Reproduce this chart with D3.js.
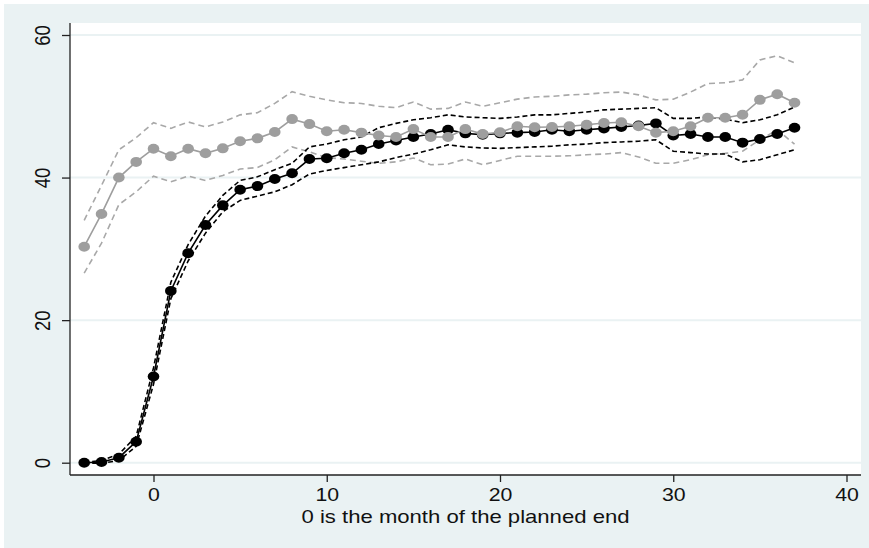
<!DOCTYPE html>
<html><head><meta charset="utf-8">
<script src="https://cdn.jsdelivr.net/npm/d3@7"></script>
<style>html,body{margin:0;padding:0;background:#fff;}svg{display:block;}</style>
</head><body>
<svg id="c" width="869" height="548"></svg>
<script>
const months = d3.range(-4, 38);
const grayMean = [30.3,34.9,40.0,42.2,44.05,43.0,44.05,43.4,44.1,45.1,45.5,46.4,48.2,47.5,46.5,46.7,46.3,45.9,45.7,46.8,45.7,45.7,46.8,46.1,46.35,47.2,47.05,47.1,47.2,47.4,47.65,47.75,47.2,46.3,46.5,47.2,48.4,48.4,48.8,50.9,51.7,50.5];
const grayUpper = [34.0,38.9,43.9,45.6,47.7,46.9,47.8,47.1,47.8,48.8,49.1,50.4,52.05,51.4,50.9,50.5,50.4,50.0,49.8,50.6,49.6,49.7,50.6,50.0,50.5,51.0,51.3,51.4,51.6,51.7,51.9,52.0,51.6,50.9,51.0,52.0,53.2,53.3,53.7,56.5,57.1,56.1];
const grayLower = [26.6,30.8,36.2,38.0,40.2,39.4,40.2,39.6,40.3,41.2,41.4,42.5,44.3,43.6,42.8,42.6,42.3,42.0,42.2,42.75,41.8,41.9,42.6,41.8,42.4,43.0,43.0,43.0,43.05,43.2,43.3,43.5,42.9,42.0,42.0,42.5,43.2,43.4,43.7,45.3,46.7,44.7];
const blackMean = [0.0,0.1,0.7,2.95,12.1,24.1,29.4,33.35,36.1,38.3,38.8,39.8,40.6,42.6,42.7,43.4,43.9,44.7,45.2,45.7,46.1,46.7,46.2,46.0,46.2,46.3,46.4,46.7,46.5,46.7,46.9,47.1,47.3,47.6,45.9,46.1,45.7,45.7,44.9,45.4,46.1,47.0];
const blackUpper = [0.05,0.3,1.2,3.7,13.3,25.3,30.6,34.6,37.5,39.6,40.1,41.1,42.0,44.3,44.7,45.3,45.7,47.0,47.6,48.1,48.4,48.8,48.5,48.4,48.3,48.5,48.8,48.8,49.0,49.2,49.5,49.6,49.7,49.8,48.3,48.3,48.5,48.2,47.7,48.1,48.8,49.9];
const blackLower = [-0.05,-0.1,0.3,2.3,11.0,23.0,28.3,32.2,35.2,36.8,37.4,38.0,39.0,40.5,41.0,41.4,41.8,42.2,42.8,43.3,43.9,44.6,44.3,44.15,44.1,44.2,44.3,44.4,44.6,44.7,44.9,45.0,45.1,45.3,43.7,43.5,43.3,43.3,42.2,42.5,43.2,43.9];
const xTicks = [0,10,20,30,40];
const yTicks = [0,20,40,60];
const xTitle = "0 is the month of the planned end";

const svg = d3.select("#c");
const P = {l:70, r:861, t:23, b:475};
const x = d3.scaleLinear().domain([0,40]).range([153.5,846.5]);
const y = d3.scaleLinear().domain([0,60]).range([462.7,35]);
const FONT = "Liberation Sans, Arial, sans-serif";

svg.append("rect").attr("x",4).attr("y",4).attr("width",865).attr("height",544).attr("fill","#EAF2F3");
svg.append("rect").attr("x",P.l).attr("y",P.t).attr("width",P.r-P.l).attr("height",P.b-P.t).attr("fill","#fff");

// gridlines
svg.append("g").selectAll("line").data(yTicks).join("line")
  .attr("x1",P.l).attr("x2",P.r).attr("y1",d=>y(d)).attr("y2",d=>y(d))
  .attr("stroke","#EAF2F3").attr("stroke-width",2);

// axes
const xAxis = d3.axisBottom(x).tickValues(xTicks).tickSize(7).tickPadding(6).tickSizeOuter(0);
const gx = svg.append("g").attr("transform",`translate(0,${P.b})`).call(xAxis);
gx.select(".domain").remove();
gx.append("line").attr("x1",P.l).attr("x2",P.r).attr("stroke","#222").attr("stroke-width",1.3);
gx.selectAll(".tick line").attr("stroke","#222").attr("stroke-width",1.3);
gx.selectAll(".tick text").attr("font-family",FONT).attr("font-size",18.5).attr("fill","#111")
  .attr("transform","scale(1.15,1)");

const yAxis = d3.axisLeft(y).tickValues(yTicks).tickSize(8).tickSizeOuter(0);
const gy = svg.append("g").attr("transform",`translate(${P.l},0)`).call(yAxis);
gy.select(".domain").remove();
gy.append("line").attr("y1",P.t).attr("y2",P.b).attr("stroke","#222").attr("stroke-width",1.3);
gy.selectAll(".tick line").attr("stroke","#222").attr("stroke-width",1.3);
gy.selectAll(".tick text").attr("font-family",FONT).attr("font-size",18.5).attr("fill","#111")
  .attr("x",null).attr("text-anchor","middle")
  .attr("transform","translate(-28,0) rotate(-90) scale(1,1.15)").attr("dy","0.36em").attr("y",0);

svg.append("text").attr("x",(P.l+P.r)/2).attr("y",523)
  .attr("text-anchor","middle").attr("font-family",FONT).attr("font-size",18.5).attr("fill","#111")
  .attr("textLength",328).attr("lengthAdjust","spacingAndGlyphs").text(xTitle);

const mk = arr => months.map((m,i)=>[m,arr[i]]);
const line = d3.line().x(d=>x(d[0])).y(d=>y(d[1]));
const g = svg.append("g");

function dashed(arr,color,dash){
  g.append("path").datum(mk(arr)).attr("d",line).attr("fill","none")
    .attr("stroke",color).attr("stroke-width",1.6).attr("stroke-dasharray",dash);
}
dashed(grayUpper,"#a8a8a8","6,4");
dashed(grayLower,"#a8a8a8","6,4");
dashed(blackUpper,"#000","5,3");
dashed(blackLower,"#000","5,3");

function series(arr,color){
  g.append("path").datum(mk(arr)).attr("d",line).attr("fill","none")
    .attr("stroke",color).attr("stroke-width",1.6);
  g.append("g").selectAll("ellipse").data(mk(arr)).join("ellipse")
    .attr("cx",d=>x(d[0])).attr("cy",d=>y(d[1])).attr("rx",5.8).attr("ry",5)
    .attr("fill",color);
}
series(blackMean,"#000");
series(grayMean,"#9e9e9e");
</script>
</body></html>
